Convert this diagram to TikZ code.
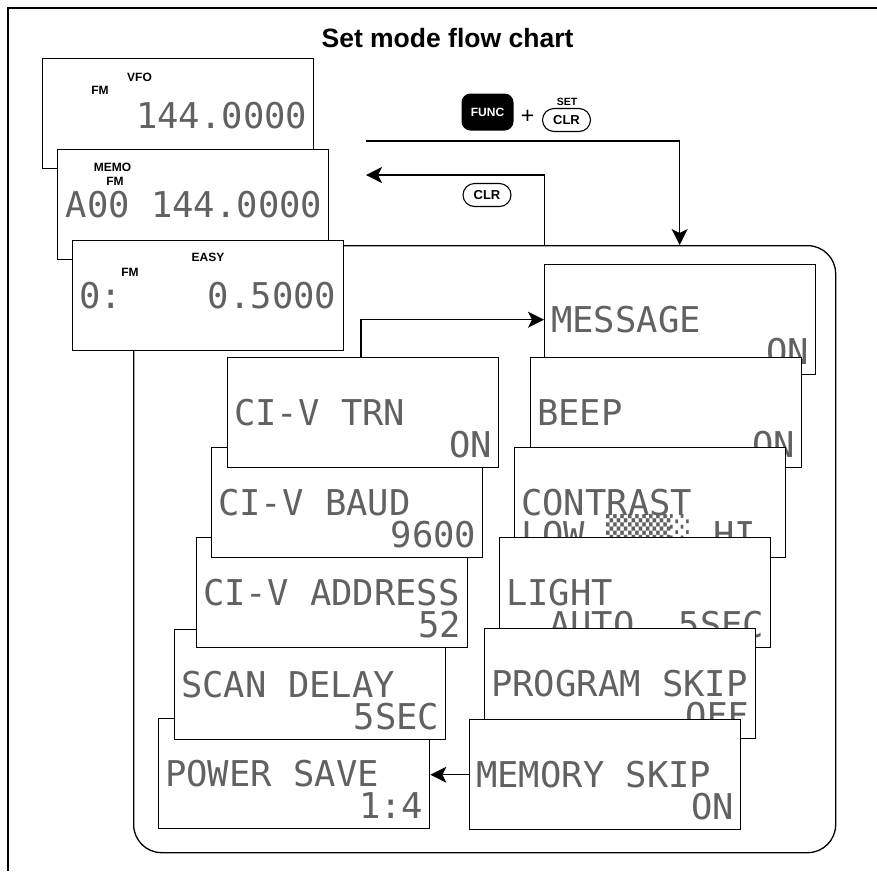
\documentclass[tikz,border=0pt]{standalone}
\usepackage{fontspec}
\setmainfont{Liberation Sans}
\newfontfamily\lcdfont{DejaVu Sans Mono}
\usetikzlibrary{arrows.meta}
\tikzset{
  lcd/.style={draw, line width=1.4pt, fill=white, anchor=north west, inner sep=0pt,
    minimum width=271pt, minimum height=110pt},
  lcdtxt/.style={inner sep=0pt, font=\lcdfont\fontsize{35.5}{36}\selectfont, text=black!62},
  lbl/.style={inner sep=0pt, font=\bfseries\fontsize{12}{12}\selectfont},
  conn/.style={line width=1.3pt, -{Stealth[length=16pt,width=16pt,inset=4pt]}},
  keyoval/.style={draw, line width=1.1pt, rounded corners=11.5pt, minimum width=48pt,
    minimum height=23pt, inner sep=0pt, font=\bfseries\fontsize{13}{13}\selectfont},
  nm/.style={lcdtxt, anchor=base west},
  vl/.style={lcdtxt, anchor=base east},
}
\begin{document}
\begin{tikzpicture}[x=1pt,y=-1pt]
\useasboundingbox (0,0) rectangle (877,871);
% outer frame
\draw[line width=1.3pt] (877,8) -- (8,8) -- (8,871);
\node[font=\bfseries\fontsize{26.5}{27}\selectfont, anchor=base, inner sep=0pt] (title) at (447.5,47) {Set mode flow chart};

% rounded frame
\node[draw, line width=1.3pt, rounded corners=28pt, minimum width=702pt, minimum height=607pt,
  anchor=north west, inner sep=0pt] (frame) at (133,245) {};

% keys
\node[fill=black, rounded corners=9pt, minimum width=52pt, minimum height=37pt, inner sep=0pt,
  text=white, font=\bfseries\fontsize{12}{12}\selectfont] (func) at (487.5,112) {FUNC};
\node[font=\fontsize{23}{23}\selectfont, inner sep=0pt] (plus) at (527.5,117) {+};
\node[lbl, font=\bfseries\fontsize{10.5}{10.5}\selectfont] (set) at (567,101.5) {SET};
\node[keyoval] (clr) at (566.5,120) {CLR};
\node[keyoval] (clr2) at (487,195) {CLR};

% top displays
\node[lcd] (vfo) at (42,58) {};
\node[lbl] (vfoL) at (139.5,77) {VFO};
\node[lbl] (vfoFM) at (100,90.5) {FM};
\node[vl] (vfoF) at ([xshift=-7pt,yshift=-70pt]vfo.north east) {144.0000};

\node[lcd] (memo) at (57,149) {};
\node[lbl] (memoL) at (112.5,167) {MEMO};
\node[lbl] (memoFM) at (115,181.5) {FM};
\node[vl] (memoF) at ([xshift=-7pt,yshift=-68pt]memo.north east) {A00 144.0000};

\node[lcd] (easy) at (72,240) {};
\node[lbl] (easyL) at (208,257.5) {EASY};
\node[lbl] (easyFM) at (130,272.5) {FM};
\node[nm] (easyC) at ([xshift=7pt,yshift=-68pt]easy.north west) {0:};
\node[vl] (easyF) at ([xshift=-8pt,yshift=-68pt]easy.north east) {0.5000};

% left column (lower first)
\node[lcd] (power) at (158,718) {};
\node[nm] (powerN) at ([xshift=7pt,yshift=-68pt]power.north west) {POWER SAVE};
\node[vl] (powerV) at ([xshift=-7pt,yshift=-100pt]power.north east) {1:4};

\node[lcd] (scan) at (174,629) {};
\node[nm] (scanN) at ([xshift=7pt,yshift=-68pt]scan.north west) {SCAN DELAY};
\node[vl] (scanV) at ([xshift=-7pt,yshift=-100pt]scan.north east) {5SEC};

\node[lcd] (address) at (196,537) {};
\node[nm] (addressN) at ([xshift=7pt,yshift=-68pt]address.north west) {CI-V ADDRESS};
\node[vl] (addressV) at ([xshift=-7pt,yshift=-100pt]address.north east) {52};

\node[lcd] (baud) at (211,447) {};
\node[nm] (baudN) at ([xshift=7pt,yshift=-68pt]baud.north west) {CI-V BAUD};
\node[vl] (baudV) at ([xshift=-7pt,yshift=-100pt]baud.north east) {9600};

\node[lcd] (trn) at (227,357) {};
\node[nm] (trnN) at ([xshift=7pt,yshift=-68pt]trn.north west) {CI-V TRN};
\node[vl] (trnV) at ([xshift=-7pt,yshift=-100pt]trn.north east) {ON};

% right column (upper first)
\node[lcd] (message) at (544,264) {};
\node[nm] (messageN) at ([xshift=7pt,yshift=-68pt]message.north west) {MESSAGE};
\node[vl] (messageV) at ([xshift=-7pt,yshift=-100pt]message.north east) {ON};

\node[lcd] (beep) at (530,357) {};
\node[nm] (beepN) at ([xshift=7pt,yshift=-68pt]beep.north west) {BEEP};
\node[vl] (beepV) at ([xshift=-7pt,yshift=-100pt]beep.north east) {ON};

\node[lcd] (contrast) at (514,447) {};
\node[nm] (contrastN) at ([xshift=7pt,yshift=-68pt]contrast.north west) {CONTRAST};
\node[nm] (contrastV) at ([xshift=7pt,yshift=-100pt]contrast.north west) {LOW ▒▒▒░ HI};

\node[lcd] (light) at (499,537) {};
\node[nm] (lightN) at ([xshift=7pt,yshift=-68pt]light.north west) {LIGHT};
\node[nm] (lightA) at ([xshift=50pt,yshift=-100pt]light.north west) {AUTO};
\node[vl] (lightV) at ([xshift=-7pt,yshift=-100pt]light.north east) {5SEC};

\node[lcd] (program) at (484,628) {};
\node[nm] (programN) at ([xshift=7pt,yshift=-68pt]program.north west) {PROGRAM SKIP};
\node[vl] (programV) at ([xshift=-7pt,yshift=-100pt]program.north east) {OFF};

\node[lcd] (memory) at (469,719) {};
\node[nm] (memoryN) at ([xshift=7pt,yshift=-68pt]memory.north west) {MEMORY SKIP};
\node[vl] (memoryV) at ([xshift=-7pt,yshift=-100pt]memory.north east) {ON};

% connectors
\coordinate (funcA) at (366,141);
\coordinate (retEnd) at (366,175);
\draw[conn] (funcA) -| ([xshift=195pt]frame.north);
\draw[conn] ([xshift=60pt]frame.north) |- (retEnd);
\draw[conn] ([xshift=134pt]trn.north west) |- (message.west);
\draw[conn] (memory.west) -- (memory.west -| power.east);
\end{tikzpicture}
\end{document}
